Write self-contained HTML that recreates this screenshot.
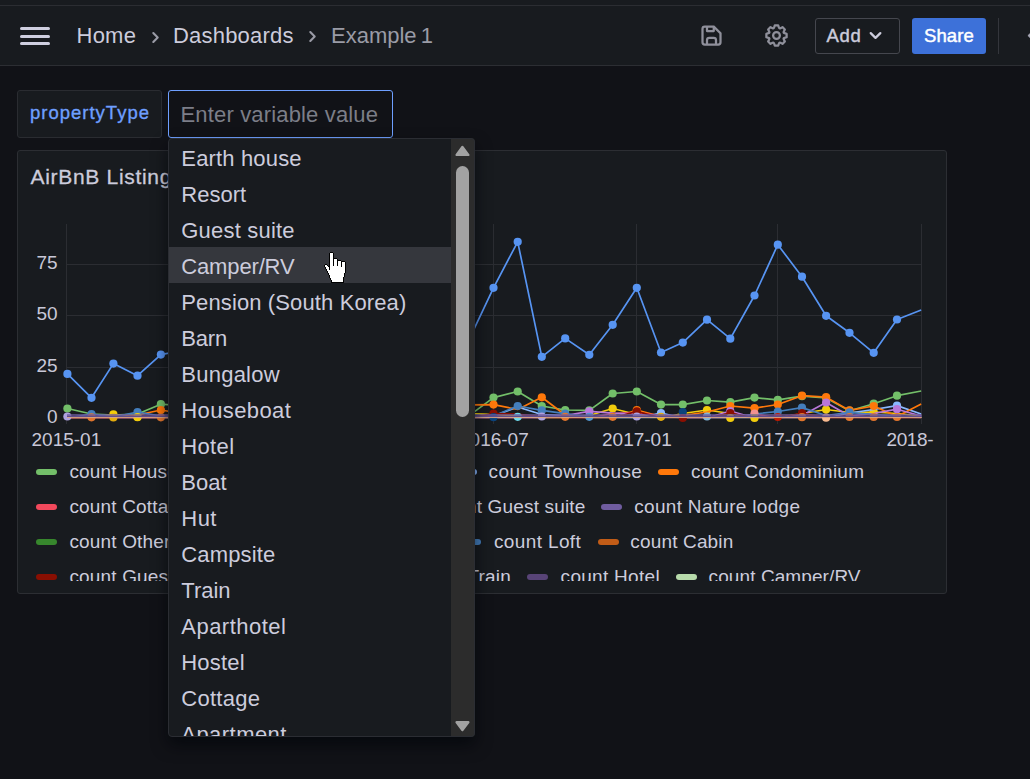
<!DOCTYPE html>
<html lang="en">
<head>
<meta charset="utf-8">
<title>Example 1 - Dashboards - Grafana</title>
<style>
html,body{margin:0;padding:0;}
body{width:1030px;height:779px;overflow:hidden;background:#111217;position:relative;
  font-family:"Liberation Sans",sans-serif;color:#ccccdc;-webkit-font-smoothing:antialiased;}
.abs{position:absolute;}
.t{position:absolute;white-space:pre;line-height:1;}
/* top bar */
#topbar{left:0;top:0;width:1030px;height:65px;background:#181b1f;border-bottom:1px solid #2c2e33;}
#topline{left:0;top:5px;width:1030px;height:1px;background:#2b2d32;}
.hb{left:20px;width:30px;height:3px;border-radius:1.5px;background:#cfcfe0;}
.bc{font-size:22px;top:25px;}
.sec{color:#9a9ba6;}
.btn{top:18px;height:36px;box-sizing:border-box;border-radius:3px;}
#add{left:815px;width:85px;border:1px solid #45474e;}
#share{left:912px;width:74px;background:#3d71d9;}
.bt{font-size:18.5px;top:26.5px;-webkit-text-stroke:0.45px currentColor;}
/* variable row */
#vlabel{left:17px;top:90px;width:145px;height:48px;box-sizing:border-box;background:#181b1f;border:1px solid #2a2c31;border-radius:3px;}
#vinput{left:168px;top:90px;width:225px;height:48px;box-sizing:border-box;background:#111217;border:1px solid #6e9fff;border-radius:3px;}
/* panel */
#panel{left:17px;top:150px;width:930px;height:444px;box-sizing:border-box;background:#181b1f;border:1px solid #2c2e33;border-radius:3px;}
.ax{font-size:19px;color:#c8c8d8;}
.lg{font-size:19px;color:#ccccdc;}
.lm{position:absolute;width:21px;height:6px;border-radius:3px;}
#legend{left:18px;top:455px;width:928px;height:126px;overflow:hidden;}
/* dropdown */
#menu{left:168px;top:138px;width:307px;height:599px;box-sizing:border-box;background:#181b1f;border-radius:4px;overflow:hidden;
  box-shadow:0 8px 16px rgba(1,4,9,0.65);}
#menutop{left:0;top:0;width:307px;height:599px;box-sizing:border-box;border:1px solid #2b2d33;border-radius:4px;}
.opt{left:13.3px;font-size:22px;color:#ccccdc;}
#hl{left:0;top:109px;width:283px;height:36px;background:#35373d;}
#sbtrack{left:283px;top:0;width:24px;height:599px;background:#2c2c2c;}
#sbthumb{left:288px;top:28px;width:13px;height:251px;border-radius:6.5px;background:#a2a2a2;}
</style>
</head>
<body>
<!-- ===== top bar ===== -->
<div id="topbar" class="abs"></div>
<div id="topline" class="abs"></div>
<div class="abs hb" style="top:27px"></div>
<div class="abs hb" style="top:34.5px"></div>
<div class="abs hb" style="top:42px"></div>

<span class="t bc" id="bc1" style="left:76.5px;letter-spacing:0.25px">Home</span>
<svg class="abs" style="left:142.5px;top:24.5px" width="25" height="25" viewBox="0 0 24 24"><path fill="#9a9ba6" d="M14.83,11.29,10.59,7.05a1,1,0,0,0-1.42,0,1,1,0,0,0,0,1.41L12.71,12,9.17,15.54a1,1,0,0,0,0,1.41,1,1,0,0,0,.71.29,1,1,0,0,0,.71-.29l4.24-4.24A1,1,0,0,0,14.83,11.29Z"/></svg>
<span class="t bc" id="bc2" style="left:173px;letter-spacing:0.2px">Dashboards</span>
<svg class="abs" style="left:299.6px;top:24.4px" width="25" height="25" viewBox="0 0 24 24"><path fill="#9a9ba6" d="M14.83,11.29,10.59,7.05a1,1,0,0,0-1.42,0,1,1,0,0,0,0,1.41L12.71,12,9.17,15.54a1,1,0,0,0,0,1.41,1,1,0,0,0,.71.29,1,1,0,0,0,.71-.29l4.24-4.24A1,1,0,0,0,14.83,11.29Z"/></svg>
<span class="t bc sec" id="bc3" style="left:331px;letter-spacing:0px;word-spacing:-2px">Example 1</span>

<!-- save icon -->
<svg class="abs" style="left:698px;top:22px" width="27" height="27" viewBox="0 0 24 24"><path fill="#8f909b" d="M20.71,9.29l-6-6a1,1,0,0,0-.32-.21A1.09,1.09,0,0,0,14,3H6A3,3,0,0,0,3,6V18a3,3,0,0,0,3,3H18a3,3,0,0,0,3-3V10A1,1,0,0,0,20.71,9.29ZM9,5h4V7H9Zm6,14H9V16a1,1,0,0,1,1-1h4a1,1,0,0,1,1,1Zm4-1a1,1,0,0,1-1,1H17V16a3,3,0,0,0-3-3H10a3,3,0,0,0-3,3v3H6a1,1,0,0,1-1-1V6A1,1,0,0,1,6,5H7V8A1,1,0,0,0,8,9h6a1,1,0,0,0,1-1V6.41l4,4Z"/></svg>
<!-- cog icon -->
<svg class="abs" style="left:763px;top:22px" width="27" height="27" viewBox="0 0 24 24"><path fill="#8f909b" d="M21.32,9.55l-1.89-.63.89-1.78A1,1,0,0,0,20.13,6L18,3.87a1,1,0,0,0-1.15-.19l-1.78.89-.63-1.89A1,1,0,0,0,13.5,2h-3a1,1,0,0,0-.95.68L8.92,4.57,7.14,3.68A1,1,0,0,0,6,3.87L3.87,6a1,1,0,0,0-.19,1.15l.89,1.78-1.89.63A1,1,0,0,0,2,10.5v3a1,1,0,0,0,.68.95l1.89.63-.89,1.78A1,1,0,0,0,3.87,18L6,20.13a1,1,0,0,0,1.15.19l1.78-.89.63,1.89a1,1,0,0,0,.95.68h3a1,1,0,0,0,.95-.68l.63-1.89,1.78.89A1,1,0,0,0,18,20.13L20.13,18a1,1,0,0,0,.19-1.15l-.89-1.78,1.89-.63A1,1,0,0,0,22,13.5v-3A1,1,0,0,0,21.32,9.55ZM20,12.78l-1.2.4A2,2,0,0,0,17.64,16l.57,1.14-1.1,1.1L16,17.64a2,2,0,0,0-2.79,1.16l-.4,1.2H11.22l-.4-1.2A2,2,0,0,0,8,17.64l-1.14.57-1.1-1.1L6.36,16A2,2,0,0,0,5.2,13.18L4,12.78V11.22l1.2-.4A2,2,0,0,0,6.36,8L5.79,6.89l1.1-1.1L8,6.36A2,2,0,0,0,10.82,5.2l.4-1.2h1.56l.4,1.2A2,2,0,0,0,16,6.36l1.14-.57,1.1,1.1L17.64,8a2,2,0,0,0,1.16,2.79l1.2.4ZM12,8a4,4,0,1,0,4,4A4,4,0,0,0,12,8Zm0,6a2,2,0,1,1,2-2A2,2,0,0,1,12,14Z"/></svg>

<div id="add" class="abs btn"></div>
<span class="t bt" id="addt" style="left:826.5px;letter-spacing:0.65px">Add</span>
<svg class="abs" style="left:862px;top:22.4px" width="27" height="27" viewBox="0 0 24 24"><path fill="#ccccdc" d="M17,9.17a1,1,0,0,0-1.41,0L12,12.71,8.46,9.17a1,1,0,0,0-1.41,0,1,1,0,0,0,0,1.42l4.24,4.24a1,1,0,0,0,1.42,0L17,10.59A1,1,0,0,0,17,9.17Z"/></svg>
<div id="share" class="abs btn"></div>
<span class="t bt" id="sharet" style="left:924px;color:#fff;letter-spacing:0.1px">Share</span>
<div class="abs" style="left:998px;top:18px;width:1px;height:36px;background:#34363c"></div>
<svg class="abs" style="left:1020px;top:30px" width="10" height="12"><path d="M7.9,5.6 L10,3.7 L10,7.5 Z" fill="#a9a9b8" stroke="#a9a9b8" stroke-width="0.8" stroke-linejoin="round"/></svg>

<!-- ===== variable row ===== -->
<div id="vlabel" class="abs"></div>
<span class="t" id="vlt" style="left:30px;top:104px;font-size:18.5px;color:#6e9fff;letter-spacing:1.0px;-webkit-text-stroke:0.35px #6e9fff">propertyType</span>
<div id="vinput" class="abs"></div>
<span class="t" id="vit" style="left:180.5px;top:103.5px;font-size:22px;color:#7c7e88;letter-spacing:0.16px">Enter variable value</span>

<!-- ===== panel ===== -->
<div id="panel" class="abs"></div>
<span class="t" id="ptitle" style="left:30.5px;top:165.8px;font-size:21px;color:#ccccdc;letter-spacing:0.69px;-webkit-text-stroke:0.3px #ccccdc">AirBnB Listings by property type</span>

<span class="t ax" style="left:36.5px;top:253px" id="y75">75</span>
<span class="t ax" style="left:36.5px;top:304px" id="y50">50</span>
<span class="t ax" style="left:36.5px;top:356px" id="y25">25</span>
<span class="t ax" style="left:47px;top:407px" id="y0">0</span>
<span class="t ax xl" style="left:31.5px;top:430.4px">2015-01</span>
<span class="t ax xl" style="left:459px;top:430.4px">2016-07</span>
<span class="t ax xl" style="left:602px;top:430.4px">2017-01</span>
<span class="t ax xl" style="left:742.5px;top:430.4px">2017-07</span>
<span class="t ax xl" style="left:886.5px;top:430.4px;letter-spacing:-0.4px">2018-</span>
<svg width="1030" height="779" style="position:absolute;left:0;top:0"><defs><clipPath id="plotclip"><rect x="66" y="220" width="855.8" height="198.2"/></clipPath></defs><rect x="66" y="224" width="1" height="200" fill="#2b2d32"/><rect x="208" y="224" width="1" height="200" fill="#2b2d32"/><rect x="351" y="224" width="1" height="200" fill="#2b2d32"/><rect x="493" y="224" width="1" height="200" fill="#2b2d32"/><rect x="636" y="224" width="1" height="200" fill="#2b2d32"/><rect x="777" y="224" width="1" height="200" fill="#2b2d32"/><rect x="921" y="224" width="1" height="200" fill="#2b2d32"/><rect x="66" y="418" width="856" height="1" fill="#2b2d32"/><rect x="66" y="367" width="856" height="1" fill="#2b2d32"/><rect x="66" y="315" width="856" height="1" fill="#2b2d32"/><rect x="66" y="264" width="856" height="1" fill="#2b2d32"/><g clip-path="url(#plotclip)"><path d="M67.4,408.5 L91.5,414.0 L113.4,415.0 L137.5,414.0 L160.9,404.2 L185.0,406.0 L208.4,410.0 L232.5,408.0 L256.7,412.0 L280.1,410.0 L304.2,408.0 L327.6,412.0 L351.7,406.0 L375.9,410.0 L398.5,412.0 L422.6,409.0 L446.0,411.0 L470.1,414.9 L493.5,397.6 L517.7,391.5 L541.8,406.0 L565.2,410.0 L589.3,410.4 L612.7,393.5 L636.8,391.5 L661.0,404.6 L682.8,404.6 L707.0,400.5 L730.3,402.2 L754.5,397.6 L777.8,399.9 L802.0,396.2 L826.1,398.0 L849.5,410.7 L873.7,403.7 L897.0,395.7 L921.2,391.0" fill="none" stroke="#73BF69" stroke-width="1.7" stroke-linejoin="round"/></g><circle cx="67.4" cy="408.5" r="4.1" fill="#73BF69"/><circle cx="160.9" cy="404.2" r="4.1" fill="#73BF69"/><circle cx="493.5" cy="397.6" r="4.1" fill="#73BF69"/><circle cx="517.7" cy="391.5" r="4.1" fill="#73BF69"/><circle cx="541.8" cy="406.0" r="4.1" fill="#73BF69"/><circle cx="565.2" cy="410.0" r="4.1" fill="#73BF69"/><circle cx="589.3" cy="410.4" r="4.1" fill="#73BF69"/><circle cx="612.7" cy="393.5" r="4.1" fill="#73BF69"/><circle cx="636.8" cy="391.5" r="4.1" fill="#73BF69"/><circle cx="661.0" cy="404.6" r="4.1" fill="#73BF69"/><circle cx="682.8" cy="404.6" r="4.1" fill="#73BF69"/><circle cx="707.0" cy="400.5" r="4.1" fill="#73BF69"/><circle cx="730.3" cy="402.2" r="4.1" fill="#73BF69"/><circle cx="754.5" cy="397.6" r="4.1" fill="#73BF69"/><circle cx="777.8" cy="399.9" r="4.1" fill="#73BF69"/><circle cx="802.0" cy="396.2" r="4.1" fill="#73BF69"/><circle cx="826.1" cy="398.0" r="4.1" fill="#73BF69"/><circle cx="849.5" cy="410.7" r="4.1" fill="#73BF69"/><circle cx="873.7" cy="403.7" r="4.1" fill="#73BF69"/><circle cx="897.0" cy="395.7" r="4.1" fill="#73BF69"/><g clip-path="url(#plotclip)"><path d="M67.4,418.0 L91.5,418.0 L113.4,414.4 L137.5,417.0 L160.9,418.0 L185.0,418.0 L208.4,418.0 L232.5,418.0 L256.7,418.0 L280.1,418.0 L304.2,418.0 L327.6,418.0 L351.7,418.0 L375.9,418.0 L398.5,418.0 L422.6,418.0 L446.0,418.0 L470.1,413.5 L493.5,414.5 L517.7,416.0 L541.8,418.0 L565.2,418.0 L589.3,415.5 L612.7,408.5 L636.8,414.5 L661.0,418.0 L682.8,413.5 L707.0,410.0 L730.3,413.5 L754.5,418.0 L777.8,418.0 L802.0,413.5 L826.1,409.5 L849.5,412.5 L873.7,412.0 L897.0,413.5 L921.2,416.0" fill="none" stroke="#F2CC0C" stroke-width="1.7" stroke-linejoin="round"/></g><circle cx="113.4" cy="414.4" r="4.1" fill="#F2CC0C"/><circle cx="137.5" cy="417.0" r="4.1" fill="#F2CC0C"/><circle cx="612.7" cy="408.5" r="4.1" fill="#F2CC0C"/><circle cx="707.0" cy="410.0" r="4.1" fill="#F2CC0C"/><circle cx="826.1" cy="409.5" r="4.1" fill="#F2CC0C"/><circle cx="873.7" cy="412.0" r="4.1" fill="#F2CC0C"/><g clip-path="url(#plotclip)"><path d="M67.4,418.0 L91.5,418.0 L113.4,418.0 L137.5,418.0 L160.9,418.0 L185.0,418.0 L208.4,418.0 L232.5,418.0 L256.7,418.0 L280.1,418.0 L304.2,418.0 L327.6,418.0 L351.7,418.0 L375.9,418.0 L398.5,418.0 L422.6,418.0 L446.0,418.0 L470.1,418.0 L493.5,416.0 L517.7,407.0 L541.8,414.5 L565.2,415.5 L589.3,418.0 L612.7,418.0 L636.8,418.0 L661.0,413.0 L682.8,418.0 L707.0,418.0 L730.3,418.0 L754.5,418.0 L777.8,418.0 L802.0,418.0 L826.1,418.0 L849.5,413.0 L873.7,409.5 L897.0,405.6 L921.2,414.0" fill="none" stroke="#8AB8FF" stroke-width="1.7" stroke-linejoin="round"/></g><circle cx="661.0" cy="413.0" r="4.1" fill="#8AB8FF"/><circle cx="897.0" cy="405.6" r="4.1" fill="#8AB8FF"/><g clip-path="url(#plotclip)"><path d="M67.4,418.0 L91.5,418.0 L113.4,418.0 L137.5,415.0 L160.9,410.0 L185.0,414.0 L208.4,416.0 L232.5,414.0 L256.7,412.0 L280.1,414.0 L304.2,416.0 L327.6,412.0 L351.7,410.0 L375.9,414.0 L398.5,412.0 L422.6,410.0 L446.0,408.0 L470.1,404.9 L493.5,404.6 L517.7,409.5 L541.8,397.3 L565.2,415.0 L589.3,418.0 L612.7,418.0 L636.8,410.0 L661.0,416.5 L682.8,415.5 L707.0,412.0 L730.3,406.0 L754.5,408.2 L777.8,404.5 L802.0,395.7 L826.1,397.2 L849.5,410.4 L873.7,406.0 L897.0,416.5 L921.2,404.0" fill="none" stroke="#FF780A" stroke-width="1.7" stroke-linejoin="round"/></g><circle cx="160.9" cy="410.0" r="4.1" fill="#FF780A"/><circle cx="493.5" cy="404.6" r="4.1" fill="#FF780A"/><circle cx="541.8" cy="397.3" r="4.1" fill="#FF780A"/><circle cx="636.8" cy="410.0" r="4.1" fill="#FF780A"/><circle cx="730.3" cy="406.0" r="4.1" fill="#FF780A"/><circle cx="754.5" cy="408.2" r="4.1" fill="#FF780A"/><circle cx="777.8" cy="404.5" r="4.1" fill="#FF780A"/><circle cx="802.0" cy="395.7" r="4.1" fill="#FF780A"/><circle cx="826.1" cy="397.2" r="4.1" fill="#FF780A"/><circle cx="849.5" cy="410.4" r="4.1" fill="#FF780A"/><circle cx="873.7" cy="406.0" r="4.1" fill="#FF780A"/><g clip-path="url(#plotclip)"><path d="M67.4,418.0 L91.5,418.0 L113.4,418.0 L137.5,418.0 L160.9,418.0 L185.0,418.0 L208.4,418.0 L232.5,418.0 L256.7,418.0 L280.1,418.0 L304.2,418.0 L327.6,418.0 L351.7,418.0 L375.9,418.0 L398.5,418.0 L422.6,418.0 L446.0,418.0 L470.1,418.0 L493.5,418.0 L517.7,418.0 L541.8,418.0 L565.2,418.0 L589.3,418.0 L612.7,413.5 L636.8,412.6 L661.0,415.5 L682.8,418.0 L707.0,418.0 L730.3,418.0 L754.5,414.0 L777.8,418.0 L802.0,418.0 L826.1,418.0 L849.5,418.0 L873.7,418.0 L897.0,418.0 L921.2,418.0" fill="none" stroke="#F2495C" stroke-width="1.7" stroke-linejoin="round"/></g><g clip-path="url(#plotclip)"><path d="M67.4,373.9 L91.5,397.8 L113.4,363.6 L137.5,375.7 L160.9,354.6 L185.0,350.0 L208.4,340.0 L232.5,330.0 L256.7,345.0 L280.1,352.0 L304.2,340.0 L327.6,330.0 L351.7,318.0 L375.9,340.0 L398.5,352.0 L422.6,345.0 L446.0,330.0 L470.1,337.4 L493.5,287.8 L517.7,241.8 L541.8,356.8 L565.2,338.4 L589.3,354.8 L612.7,324.8 L636.8,287.8 L661.0,352.5 L682.8,342.6 L707.0,319.7 L730.3,338.7 L754.5,295.5 L777.8,244.7 L802.0,276.7 L826.1,315.8 L849.5,332.8 L873.7,352.8 L897.0,319.5 L921.2,310.0" fill="none" stroke="#5794F2" stroke-width="1.7" stroke-linejoin="round"/></g><circle cx="67.4" cy="373.9" r="4.1" fill="#5794F2"/><circle cx="91.5" cy="397.8" r="4.1" fill="#5794F2"/><circle cx="113.4" cy="363.6" r="4.1" fill="#5794F2"/><circle cx="137.5" cy="375.7" r="4.1" fill="#5794F2"/><circle cx="160.9" cy="354.6" r="4.1" fill="#5794F2"/><circle cx="185.0" cy="350.0" r="4.1" fill="#5794F2"/><circle cx="208.4" cy="340.0" r="4.1" fill="#5794F2"/><circle cx="232.5" cy="330.0" r="4.1" fill="#5794F2"/><circle cx="256.7" cy="345.0" r="4.1" fill="#5794F2"/><circle cx="280.1" cy="352.0" r="4.1" fill="#5794F2"/><circle cx="304.2" cy="340.0" r="4.1" fill="#5794F2"/><circle cx="327.6" cy="330.0" r="4.1" fill="#5794F2"/><circle cx="351.7" cy="318.0" r="4.1" fill="#5794F2"/><circle cx="375.9" cy="340.0" r="4.1" fill="#5794F2"/><circle cx="398.5" cy="352.0" r="4.1" fill="#5794F2"/><circle cx="422.6" cy="345.0" r="4.1" fill="#5794F2"/><circle cx="446.0" cy="330.0" r="4.1" fill="#5794F2"/><circle cx="470.1" cy="337.4" r="4.1" fill="#5794F2"/><circle cx="493.5" cy="287.8" r="4.1" fill="#5794F2"/><circle cx="517.7" cy="241.8" r="4.1" fill="#5794F2"/><circle cx="541.8" cy="356.8" r="4.1" fill="#5794F2"/><circle cx="565.2" cy="338.4" r="4.1" fill="#5794F2"/><circle cx="589.3" cy="354.8" r="4.1" fill="#5794F2"/><circle cx="612.7" cy="324.8" r="4.1" fill="#5794F2"/><circle cx="636.8" cy="287.8" r="4.1" fill="#5794F2"/><circle cx="661.0" cy="352.5" r="4.1" fill="#5794F2"/><circle cx="682.8" cy="342.6" r="4.1" fill="#5794F2"/><circle cx="707.0" cy="319.7" r="4.1" fill="#5794F2"/><circle cx="730.3" cy="338.7" r="4.1" fill="#5794F2"/><circle cx="754.5" cy="295.5" r="4.1" fill="#5794F2"/><circle cx="777.8" cy="244.7" r="4.1" fill="#5794F2"/><circle cx="802.0" cy="276.7" r="4.1" fill="#5794F2"/><circle cx="826.1" cy="315.8" r="4.1" fill="#5794F2"/><circle cx="849.5" cy="332.8" r="4.1" fill="#5794F2"/><circle cx="873.7" cy="352.8" r="4.1" fill="#5794F2"/><circle cx="897.0" cy="319.5" r="4.1" fill="#5794F2"/><g clip-path="url(#plotclip)"><path d="M67.4,418.0 L91.5,418.0 L113.4,418.0 L137.5,418.0 L160.9,418.0 L185.0,418.0 L208.4,418.0 L232.5,418.0 L256.7,418.0 L280.1,418.0 L304.2,418.0 L327.6,418.0 L351.7,418.0 L375.9,418.0 L398.5,418.0 L422.6,418.0 L446.0,418.0 L470.1,418.0 L493.5,418.0 L517.7,418.0 L541.8,418.0 L565.2,415.5 L589.3,411.4 L612.7,413.2 L636.8,414.0 L661.0,416.0 L682.8,418.0 L707.0,418.0 L730.3,411.0 L754.5,418.0 L777.8,418.0 L802.0,415.5 L826.1,402.5 L849.5,416.0 L873.7,413.5 L897.0,409.2 L921.2,416.0" fill="none" stroke="#B877D9" stroke-width="1.7" stroke-linejoin="round"/></g><circle cx="589.3" cy="411.4" r="4.1" fill="#B877D9"/><circle cx="730.3" cy="411.0" r="4.1" fill="#B877D9"/><circle cx="826.1" cy="402.5" r="4.1" fill="#B877D9"/><circle cx="897.0" cy="409.2" r="4.1" fill="#B877D9"/><g clip-path="url(#plotclip)"><path d="M67.4,418.0 L91.5,414.0 L113.4,417.0 L137.5,412.0 L160.9,416.0 L185.0,418.0 L208.4,418.0 L232.5,418.0 L256.7,418.0 L280.1,418.0 L304.2,418.0 L327.6,418.0 L351.7,418.0 L375.9,418.0 L398.5,418.0 L422.6,418.0 L446.0,418.0 L470.1,418.0 L493.5,416.0 L517.7,406.0 L541.8,410.4 L565.2,413.6 L589.3,417.0 L612.7,418.0 L636.8,418.0 L661.0,418.0 L682.8,418.0 L707.0,418.0 L730.3,418.0 L754.5,414.0 L777.8,411.5 L802.0,407.6 L826.1,415.5 L849.5,412.3 L873.7,414.5 L897.0,416.0 L921.2,418.0" fill="none" stroke="#447EBC" stroke-width="1.7" stroke-linejoin="round"/></g><circle cx="91.5" cy="414.0" r="4.1" fill="#447EBC"/><circle cx="137.5" cy="412.0" r="4.1" fill="#447EBC"/><circle cx="517.7" cy="406.0" r="4.1" fill="#447EBC"/><circle cx="541.8" cy="410.4" r="4.1" fill="#447EBC"/><circle cx="565.2" cy="413.6" r="4.1" fill="#447EBC"/><circle cx="777.8" cy="411.5" r="4.1" fill="#447EBC"/><circle cx="802.0" cy="407.6" r="4.1" fill="#447EBC"/><circle cx="849.5" cy="412.3" r="4.1" fill="#447EBC"/><g clip-path="url(#plotclip)"><path d="M67.4,418.0 L91.5,418.0 L113.4,418.0 L137.5,418.0 L160.9,418.0 L185.0,418.0 L208.4,418.0 L232.5,418.0 L256.7,418.0 L280.1,418.0 L304.2,418.0 L327.6,418.0 L351.7,418.0 L375.9,418.0 L398.5,418.0 L422.6,418.0 L446.0,418.0 L470.1,418.0 L493.5,413.6 L517.7,414.0 L541.8,417.0 L565.2,418.0 L589.3,418.0 L612.7,418.0 L636.8,411.4 L661.0,418.0 L682.8,418.0 L707.0,418.0 L730.3,413.2 L754.5,418.0 L777.8,418.0 L802.0,413.0 L826.1,418.0 L849.5,418.0 L873.7,418.0 L897.0,418.0 L921.2,418.0" fill="none" stroke="#890F02" stroke-width="1.7" stroke-linejoin="round"/></g><circle cx="493.5" cy="413.6" r="4.1" fill="#890F02"/><circle cx="636.8" cy="411.4" r="4.1" fill="#890F02"/><circle cx="730.3" cy="413.2" r="4.1" fill="#890F02"/><circle cx="802.0" cy="413.0" r="4.1" fill="#890F02"/><circle cx="682.8" cy="412.1" r="4.1" fill="#0A437C"/><circle cx="754.5" cy="413.6" r="4.1" fill="#F29191"/><circle cx="67.4" cy="416.5" r="4.1" fill="#AEA2E0"/><circle cx="91.5" cy="417.3" r="4.1" fill="#E0752D"/><circle cx="113.4" cy="417.5" r="4.1" fill="#E5AC0E"/><circle cx="137.5" cy="417.2" r="4.1" fill="#F2CC0C"/><circle cx="160.9" cy="417.3" r="4.1" fill="#E0752D"/><circle cx="493.5" cy="417.2" r="4.1" fill="#0A437C"/><circle cx="517.7" cy="416.8" r="4.1" fill="#70DBED"/><circle cx="541.8" cy="416.5" r="4.1" fill="#AEA2E0"/><circle cx="565.2" cy="416.8" r="4.1" fill="#E0752D"/><circle cx="589.3" cy="416.8" r="4.1" fill="#5195CE"/><circle cx="612.7" cy="416.8" r="4.1" fill="#E0752D"/><circle cx="636.8" cy="416.5" r="4.1" fill="#AEA2E0"/><circle cx="661.0" cy="416.8" r="4.1" fill="#E5AC0E"/><circle cx="682.8" cy="418.0" r="4.1" fill="#890F02"/><circle cx="707.0" cy="416.5" r="4.1" fill="#82B5D8"/><circle cx="730.3" cy="418.0" r="4.1" fill="#F2CC0C"/><circle cx="754.5" cy="418.0" r="4.1" fill="#F2CC0C"/><circle cx="777.8" cy="417.0" r="4.1" fill="#BF1B00"/><circle cx="802.0" cy="417.2" r="4.1" fill="#E0752D"/><circle cx="826.1" cy="417.7" r="4.1" fill="#F9BA8F"/><circle cx="849.5" cy="417.0" r="4.1" fill="#E0752D"/><circle cx="873.7" cy="417.0" r="4.1" fill="#E0752D"/><circle cx="897.0" cy="417.0" r="4.1" fill="#E0752D"/><circle cx="185.0" cy="417.0" r="4.1" fill="#E0752D"/><circle cx="208.4" cy="417.0" r="4.1" fill="#E0752D"/><circle cx="232.5" cy="417.0" r="4.1" fill="#E0752D"/><circle cx="256.7" cy="417.0" r="4.1" fill="#E0752D"/><circle cx="280.1" cy="417.0" r="4.1" fill="#E0752D"/><circle cx="304.2" cy="417.0" r="4.1" fill="#E0752D"/><circle cx="327.6" cy="417.0" r="4.1" fill="#E0752D"/><circle cx="351.7" cy="417.0" r="4.1" fill="#E0752D"/><circle cx="375.9" cy="417.0" r="4.1" fill="#E0752D"/><circle cx="398.5" cy="417.0" r="4.1" fill="#E0752D"/><circle cx="422.6" cy="417.0" r="4.1" fill="#E0752D"/><circle cx="446.0" cy="417.0" r="4.1" fill="#E0752D"/><circle cx="470.1" cy="417.0" r="4.1" fill="#E0752D"/><g clip-path="url(#plotclip)"><rect x="67" y="414.3" width="855" height="1.3" fill="#705DA0"/></g><g clip-path="url(#plotclip)"><rect x="67" y="415.6" width="855" height="1.4" fill="#5f4c8c"/></g><g clip-path="url(#plotclip)"><rect x="67" y="417.1" width="855" height="1.1" fill="#d9a785"/></g></svg>

<div id="legend" class="abs">
<div class="lm" style="left:18.2px;top:14.2px;background:#73BF69"></div>
<span class="t lg" style="left:51.4px;top:7.4px;letter-spacing:0.17px">count House</span>
<div class="lm" style="left:437.5px;top:14.2px;background:#8AB8FF"></div>
<span class="t lg" style="left:470.5px;top:7.4px;letter-spacing:0.42px">count Townhouse</span>
<div class="lm" style="left:640.0px;top:14.2px;background:#FF780A"></div>
<span class="t lg" style="left:672.9px;top:7.4px;letter-spacing:0.26px">count Condominium</span>
<div class="lm" style="left:18.2px;top:49.1px;background:#F2495C"></div>
<span class="t lg" style="left:51.4px;top:42.3px;letter-spacing:0.17px">count Cottage</span>
<span class="t lg" style="left:416.8px;top:42.3px;letter-spacing:0.17px">count Guest suite</span>
<div class="lm" style="left:582.5px;top:49.1px;background:#705DA0"></div>
<span class="t lg" style="left:616.3px;top:42.3px;letter-spacing:0.30px">count Nature lodge</span>
<div class="lm" style="left:18.2px;top:84.0px;background:#37872D"></div>
<span class="t lg" style="left:51.4px;top:77.2px;letter-spacing:0.17px">count Other</span>
<div class="lm" style="left:442.4px;top:84.0px;background:#447EBC"></div>
<span class="t lg" style="left:476.0px;top:77.2px;letter-spacing:0.37px">count Loft</span>
<div class="lm" style="left:579.5px;top:84.0px;background:#C15C17"></div>
<span class="t lg" style="left:612.3px;top:77.2px;letter-spacing:0.16px">count Cabin</span>
<div class="lm" style="left:18.2px;top:119.0px;background:#890F02"></div>
<span class="t lg" style="left:51.4px;top:112.2px;letter-spacing:0.17px">count Guesthouse</span>
<span class="t lg" style="left:397.0px;top:112.2px;letter-spacing:0.17px">count Train</span>
<div class="lm" style="left:509.3px;top:119.0px;background:#584477"></div>
<span class="t lg" style="left:542.6px;top:112.2px;letter-spacing:0.29px">count Hotel</span>
<div class="lm" style="left:658.2px;top:119.0px;background:#B7DBAB"></div>
<span class="t lg" style="left:690.6px;top:112.2px;letter-spacing:0.09px">count Camper/RV</span>
</div>

<!-- ===== dropdown ===== -->
<div id="menu" class="abs">
  <div id="hl" class="abs"></div>
  <span class="t opt" style="top:10.3px;letter-spacing:0.16px">Earth house</span>
  <span class="t opt" style="top:46.3px;letter-spacing:0.00px">Resort</span>
  <span class="t opt" style="top:82.3px;letter-spacing:0.20px">Guest suite</span>
  <span class="t opt" style="top:118.3px;letter-spacing:-0.15px">Camper/RV</span>
  <span class="t opt" style="top:154.3px;letter-spacing:0.12px">Pension (South Korea)</span>
  <span class="t opt" style="top:190.3px;letter-spacing:-0.19px">Barn</span>
  <span class="t opt" style="top:226.3px;letter-spacing:0.24px">Bungalow</span>
  <span class="t opt" style="top:262.3px;letter-spacing:0.38px">Houseboat</span>
  <span class="t opt" style="top:298.3px;letter-spacing:0.34px">Hotel</span>
  <span class="t opt" style="top:334.3px;letter-spacing:0.04px">Boat</span>
  <span class="t opt" style="top:370.3px;letter-spacing:0.47px">Hut</span>
  <span class="t opt" style="top:406.3px;letter-spacing:0.14px">Campsite</span>
  <span class="t opt" style="top:442.3px;letter-spacing:-0.03px">Train</span>
  <span class="t opt" style="top:478.3px;letter-spacing:0.47px">Aparthotel</span>
  <span class="t opt" style="top:514.3px;letter-spacing:0.19px">Hostel</span>
  <span class="t opt" style="top:550.3px;letter-spacing:0.26px">Cottage</span>
  <span class="t opt" style="top:586.3px;letter-spacing:0.45px">Apartment</span>
  <div id="sbtrack" class="abs"></div>
  <div id="sbthumb" class="abs"></div>
  <svg class="abs" style="left:283px;top:0" width="24" height="599"><path d="M11.4,8.9 L5.6,16.9 L17.3,16.9 Z" fill="#a2a2a2" stroke="#a2a2a2" stroke-width="2.4" stroke-linejoin="round"/><path d="M5.6,584.2 L17.3,584.2 L11.4,592.1 Z" fill="#a2a2a2" stroke="#a2a2a2" stroke-width="2.4" stroke-linejoin="round"/></svg>
  <div id="menutop" class="abs"></div>
</div>

<!-- cursor -->
<svg class="abs" style="left:315px;top:245px" width="40" height="45" viewBox="315 245 40 45" shape-rendering="crispEdges"><rect x="330" y="252" width="3" height="1" fill="#000"/><rect x="329" y="253" width="5" height="1" fill="#fff"/><rect x="329" y="253" width="1" height="1" fill="#000"/><rect x="333" y="253" width="1" height="1" fill="#000"/><rect x="329" y="254" width="5" height="1" fill="#fff"/><rect x="329" y="254" width="1" height="1" fill="#000"/><rect x="333" y="254" width="1" height="1" fill="#000"/><rect x="329" y="255" width="5" height="1" fill="#fff"/><rect x="329" y="255" width="1" height="1" fill="#000"/><rect x="333" y="255" width="1" height="1" fill="#000"/><rect x="329" y="256" width="5" height="1" fill="#fff"/><rect x="329" y="256" width="1" height="1" fill="#000"/><rect x="333" y="256" width="1" height="1" fill="#000"/><rect x="329" y="257" width="5" height="1" fill="#fff"/><rect x="329" y="257" width="1" height="1" fill="#000"/><rect x="333" y="257" width="1" height="1" fill="#000"/><rect x="329" y="258" width="8" height="1" fill="#fff"/><rect x="329" y="258" width="1" height="1" fill="#000"/><rect x="333" y="258" width="4" height="1" fill="#000"/><rect x="329" y="259" width="9" height="1" fill="#fff"/><rect x="329" y="259" width="1" height="1" fill="#000"/><rect x="333" y="259" width="1" height="1" fill="#000"/><rect x="337" y="259" width="1" height="1" fill="#000"/><rect x="329" y="260" width="12" height="1" fill="#fff"/><rect x="329" y="260" width="1" height="1" fill="#000"/><rect x="333" y="260" width="1" height="1" fill="#000"/><rect x="337" y="260" width="4" height="1" fill="#000"/><rect x="329" y="261" width="16" height="1" fill="#fff"/><rect x="329" y="261" width="1" height="1" fill="#000"/><rect x="333" y="261" width="1" height="1" fill="#000"/><rect x="337" y="261" width="1" height="1" fill="#000"/><rect x="341" y="261" width="4" height="1" fill="#000"/><rect x="329" y="262" width="17" height="1" fill="#fff"/><rect x="329" y="262" width="1" height="1" fill="#000"/><rect x="333" y="262" width="1" height="1" fill="#000"/><rect x="337" y="262" width="1" height="1" fill="#000"/><rect x="341" y="262" width="1" height="1" fill="#000"/><rect x="345" y="262" width="1" height="1" fill="#000"/><rect x="329" y="263" width="17" height="1" fill="#fff"/><rect x="329" y="263" width="1" height="1" fill="#000"/><rect x="333" y="263" width="1" height="1" fill="#000"/><rect x="337" y="263" width="1" height="1" fill="#000"/><rect x="341" y="263" width="1" height="1" fill="#000"/><rect x="345" y="263" width="1" height="1" fill="#000"/><rect x="329" y="264" width="17" height="1" fill="#fff"/><rect x="325" y="264" width="2" height="1" fill="#000"/><rect x="329" y="264" width="1" height="1" fill="#000"/><rect x="333" y="264" width="1" height="1" fill="#000"/><rect x="337" y="264" width="1" height="1" fill="#000"/><rect x="341" y="264" width="1" height="1" fill="#000"/><rect x="345" y="264" width="1" height="1" fill="#000"/><rect x="325" y="265" width="2" height="1" fill="#fff"/><rect x="329" y="265" width="17" height="1" fill="#fff"/><rect x="324" y="265" width="1" height="1" fill="#000"/><rect x="327" y="265" width="1" height="1" fill="#000"/><rect x="329" y="265" width="1" height="1" fill="#000"/><rect x="333" y="265" width="1" height="1" fill="#000"/><rect x="337" y="265" width="1" height="1" fill="#000"/><rect x="341" y="265" width="1" height="1" fill="#000"/><rect x="345" y="265" width="1" height="1" fill="#000"/><rect x="324" y="266" width="22" height="1" fill="#fff"/><rect x="324" y="266" width="1" height="1" fill="#000"/><rect x="328" y="266" width="2" height="1" fill="#000"/><rect x="341" y="266" width="1" height="1" fill="#000"/><rect x="345" y="266" width="1" height="1" fill="#000"/><rect x="325" y="267" width="21" height="1" fill="#fff"/><rect x="325" y="267" width="1" height="1" fill="#000"/><rect x="329" y="267" width="1" height="1" fill="#000"/><rect x="345" y="267" width="1" height="1" fill="#000"/><rect x="325" y="268" width="21" height="1" fill="#fff"/><rect x="325" y="268" width="1" height="1" fill="#000"/><rect x="329" y="268" width="1" height="1" fill="#000"/><rect x="345" y="268" width="1" height="1" fill="#000"/><rect x="326" y="269" width="20" height="1" fill="#fff"/><rect x="326" y="269" width="1" height="1" fill="#000"/><rect x="329" y="269" width="1" height="1" fill="#000"/><rect x="345" y="269" width="1" height="1" fill="#000"/><rect x="326" y="270" width="20" height="1" fill="#fff"/><rect x="326" y="270" width="1" height="1" fill="#000"/><rect x="345" y="270" width="1" height="1" fill="#000"/><rect x="327" y="271" width="19" height="1" fill="#fff"/><rect x="327" y="271" width="1" height="1" fill="#000"/><rect x="345" y="271" width="1" height="1" fill="#000"/><rect x="327" y="272" width="19" height="1" fill="#fff"/><rect x="327" y="272" width="1" height="1" fill="#000"/><rect x="345" y="272" width="1" height="1" fill="#000"/><rect x="328" y="273" width="17" height="1" fill="#fff"/><rect x="328" y="273" width="1" height="1" fill="#000"/><rect x="344" y="273" width="1" height="1" fill="#000"/><rect x="328" y="274" width="17" height="1" fill="#fff"/><rect x="328" y="274" width="1" height="1" fill="#000"/><rect x="344" y="274" width="1" height="1" fill="#000"/><rect x="329" y="275" width="16" height="1" fill="#fff"/><rect x="329" y="275" width="1" height="1" fill="#000"/><rect x="344" y="275" width="1" height="1" fill="#000"/><rect x="329" y="276" width="16" height="1" fill="#fff"/><rect x="329" y="276" width="1" height="1" fill="#000"/><rect x="344" y="276" width="1" height="1" fill="#000"/><rect x="329" y="277" width="15" height="1" fill="#fff"/><rect x="329" y="277" width="1" height="1" fill="#000"/><rect x="343" y="277" width="1" height="1" fill="#000"/><rect x="330" y="278" width="14" height="1" fill="#fff"/><rect x="330" y="278" width="1" height="1" fill="#000"/><rect x="343" y="278" width="1" height="1" fill="#000"/><rect x="330" y="279" width="14" height="1" fill="#fff"/><rect x="330" y="279" width="1" height="1" fill="#000"/><rect x="343" y="279" width="1" height="1" fill="#000"/><rect x="331" y="280" width="13" height="1" fill="#fff"/><rect x="331" y="280" width="1" height="1" fill="#000"/><rect x="343" y="280" width="1" height="1" fill="#000"/><rect x="331" y="281" width="13" height="1" fill="#fff"/><rect x="331" y="281" width="1" height="1" fill="#000"/><rect x="343" y="281" width="1" height="1" fill="#000"/><rect x="331" y="282" width="13" height="1" fill="#fff"/><rect x="331" y="282" width="13" height="1" fill="#000"/></svg>
</body>
</html>
